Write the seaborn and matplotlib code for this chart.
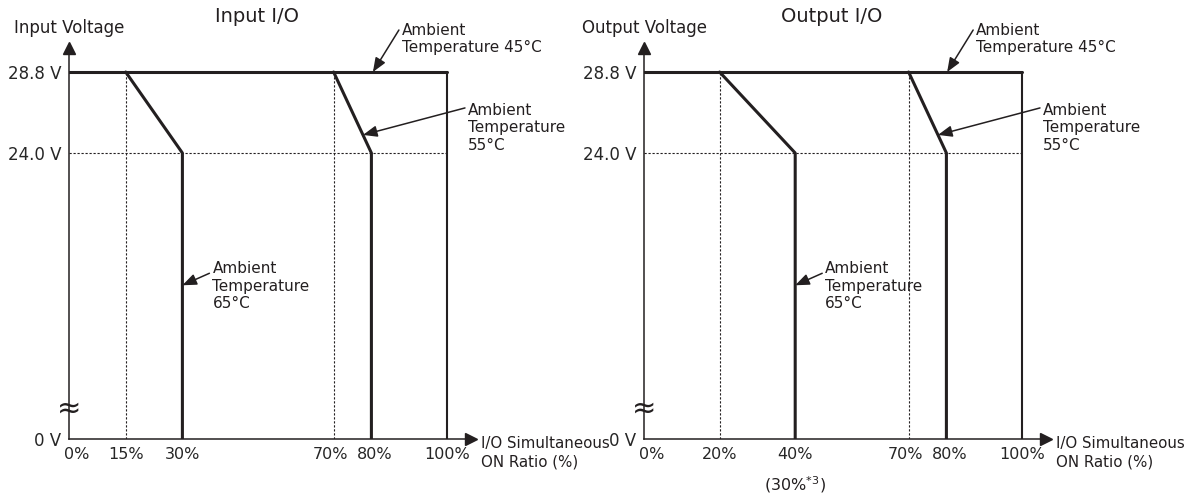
import numpy as np
import matplotlib
matplotlib.use("Agg")
import matplotlib.pyplot as plt
import seaborn as sns
from matplotlib.transforms import ScaledTranslation

# Data
volt_ticks = [0, 24.0, 28.8]
volt_labels = ["0 V", "24.0 V", "28.8 V"]

in_ticks = [0, 15, 30, 70, 80, 100]
out_ticks = [0, 20, 40, 70, 80, 100]

# Ambient 45 degC: full rated voltage up to 100 %
t45_x = [0, 100, 100]
t45_v = [28.8, 28.8, 0]

# derating curves share the same voltage points
derate_v = [28.8, 24.0, 0]
in_t55_x = [70, 80, 80]
in_t65_x = [15, 30, 30]
out_t55_x = [70, 80, 80]
out_t65_x = [20, 40, 40]

# where the arrows point at each curve (ratio %, voltage)
in_arrows = [(80.4, 28.8), (None, 25.07), (30, 12.9)]
out_arrows = [(80.2, 28.8), (None, 25.07), (40, 12.9)]
temp_labels = ["Ambient\nTemperature 45°C", "Ambient\nTemperature\n55°C", "Ambient\nTemperature\n65°C"]

INK = "#231f20"
W, H = 1188, 497

sns.set_theme(style="white")
plt.rcParams["font.family"] = ["DejaVu Sans"]
plt.rcParams["font.size"] = 11
plt.rcParams["mathtext.fontset"] = "dejavusans"
plt.rcParams["text.color"] = INK

# broken y axis: 0..24 V squeezed, 24..28.8 V stretched
V_KNOTS = [0, 24.0, 28.8, 40.0]
P_KNOTS = [0, 286, 367, 367 + 11.2 * 16.875]


def fwd(v):
    return np.interp(v, V_KNOTS, P_KNOTS)


def inv(p):
    return np.interp(p, P_KNOTS, V_KNOTS)


fig = plt.figure(figsize=(W / 100, H / 100), dpi=100)
ax_in = fig.add_axes([69 / W, (H - 439) / H, 402 / W, 391 / H])
ax_out = fig.add_axes([644 / W, (H - 439) / H, 402 / W, 391 / H])
XMAX = 402 / 3.78

# small horizontal nudges (px) for crowded tick labels: 0%, ..., 70%, 80%
label_nudge = [8, 0, 0, -3, 3, 0]


def draw_panel(ax, ticks, t55_x, t65_x, arrows, title, ylabel, extra=None):
    ax.set_yscale("function", functions=(fwd, inv))

    # dotted guides
    ax.vlines([t65_x[0], t55_x[0]], 0, derate_v[0], colors=INK, lw=0.8, linestyles=(0, (2, 1.6)))
    ax.hlines(derate_v[1], 0, t45_x[1], colors=INK, lw=0.8, linestyles=(0, (2, 1.6)))

    # curves
    sns.lineplot(x=t45_x[:2], y=t45_v[:2], ax=ax, color=INK, lw=2.2, estimator=None, sort=False)
    sns.lineplot(x=t45_x[1:], y=t45_v[1:], ax=ax, color=INK, lw=1.5, estimator=None, sort=False)
    sns.lineplot(x=t55_x, y=derate_v, ax=ax, color=INK, lw=2.2, estimator=None, sort=False)
    sns.lineplot(x=t65_x, y=derate_v, ax=ax, color=INK, lw=2.2, estimator=None, sort=False)

    ax.set_xlim(0, XMAX)
    ax.set_ylim(0, inv(391))
    ax.set_xlabel("")
    ax.set_ylabel("")

    sns.despine(ax=ax)
    for s in ["left", "bottom"]:
        ax.spines[s].set_color(INK)
        ax.spines[s].set_linewidth(1.1)
    ax.plot(1, 0, ">", color=INK, ms=8, transform=ax.get_yaxis_transform(), clip_on=False)
    ax.plot(0, 1, "^", color=INK, ms=8, transform=ax.get_xaxis_transform(), clip_on=False)

    ax.set_xticks(ticks)
    ax.set_xticklabels([f"{t}%" for t in ticks], fontsize=11.5)
    ax.set_yticks(volt_ticks)
    ax.set_yticklabels(volt_labels, fontsize=12)
    ax.tick_params(axis="x", length=0, pad=6)
    ax.tick_params(axis="y", length=0, pad=5.5)
    for lab, dx in zip(ax.get_xticklabels(), label_nudge):
        if dx:
            lab.set_transform(lab.get_transform() + ScaledTranslation(dx / 100, 0, fig.dpi_scale_trans))

    # axis break mark
    ax.text(0, inv(30), "≈", ha="center", va="center", fontsize=21,
            family=["DejaVu Sans"], color=INK, clip_on=False)

    ax.text(0.468, 1.081, title, transform=ax.transAxes, ha="center", va="center", fontsize=14)
    ax.text(0, 1.051, ylabel, transform=ax.transAxes, ha="center", va="center", fontsize=12)
    ax.text(1.025, -0.035, "I/O Simultaneous\nON Ratio (%)", transform=ax.transAxes,
            ha="left", va="center", linespacing=1.35, fontsize=10.8)

    # temperature callouts
    tips = []
    for (x, v) in arrows:
        if x is None:
            x = np.interp(v, derate_v[1::-1], t55_x[1::-1])
        tips.append((x, v))
    tails = [(26, 42), (102, 27), (27, 12)]
    text_off = [(29, 49), (105, 32), (30, 24)]
    for tip, tail, toff, lab in zip(tips, tails, text_off, temp_labels):
        ax.annotate("", xy=tip, xytext=tail, textcoords="offset pixels",
                    arrowprops=dict(arrowstyle="-|>,head_length=0.5,head_width=0.2",
                                    color=INK, lw=1.1, mutation_scale=17, shrinkA=0, shrinkB=0))
        ax.annotate(lab, xy=tip, xytext=toff, textcoords="offset pixels",
                    ha="left", va="top", linespacing=1.2)

    if extra is not None:
        ax.annotate(extra[1], xy=(extra[0], 0), xytext=(0, -46), textcoords="offset pixels",
                    ha="center", va="center", fontsize=11.5, annotation_clip=False)


draw_panel(ax_in, in_ticks, in_t55_x, in_t65_x, in_arrows, "Input I/O", "Input Voltage")
draw_panel(ax_out, out_ticks, out_t55_x, out_t65_x, out_arrows, "Output I/O", "Output Voltage",
           extra=(40, "(30%$^{*3}$)"))

fig.savefig("out.png", dpi=100, facecolor="white")
